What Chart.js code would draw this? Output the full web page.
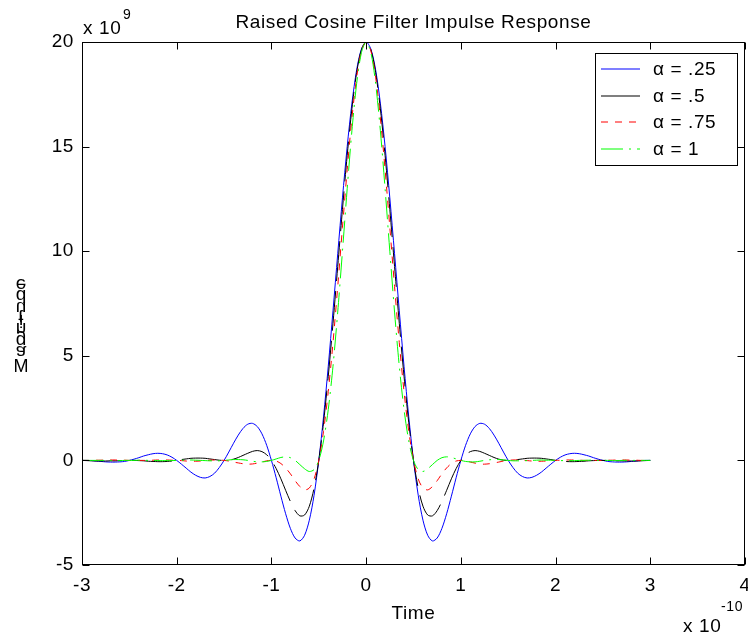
<!DOCTYPE html>
<html><head><meta charset="utf-8">
<script src="https://cdn.jsdelivr.net/npm/chart.js@4"></script>
<style>html,body{margin:0;padding:0;background:#fff}#wrap{width:748px;height:638px}</style>
</head><body><div id="wrap"><canvas id="c" width="748" height="638"></canvas></div>
<script>
// Time axis samples (x 10^-10)
const times=[-3,-2.95,-2.9,-2.85,-2.8,-2.75,-2.7,-2.65,-2.6,-2.55,-2.5,-2.45,-2.4,-2.35,-2.3,-2.25,-2.2,-2.15,-2.1,-2.05,
-2,-1.95,-1.9,-1.85,-1.8,-1.75,-1.7,-1.65,-1.6,-1.55,-1.5,-1.45,-1.4,-1.35,-1.3,-1.25,-1.2,-1.15,-1.1,-1.05,
-1,-0.95,-0.9,-0.85,-0.8,-0.75,-0.7,-0.65,-0.6,-0.55,-0.5,-0.45,-0.4,-0.35,-0.3,-0.25,-0.2,-0.15,-0.1,-0.05,
0,0.05,0.1,0.15,0.2,0.25,0.3,0.35,0.4,0.45,0.5,0.55,0.6,0.65,0.7,0.75,0.8,0.85,0.9,0.95,
1,1.05,1.1,1.15,1.2,1.25,1.3,1.35,1.4,1.45,1.5,1.55,1.6,1.65,1.7,1.75,1.8,1.85,1.9,1.95,
2,2.05,2.1,2.15,2.2,2.25,2.3,2.35,2.4,2.45,2.5,2.55,2.6,2.65,2.7,2.75,2.8,2.85,2.9,2.95,3];
// Magnitude values (x 10^9)
const alpha025=[0,0,-0.01,-0.03,-0.05,-0.07,-0.08,-0.08,-0.07,-0.05,
0,0.06,0.13,0.21,0.27,0.32,0.34,0.32,0.26,0.15,
0,-0.18,-0.37,-0.56,-0.71,-0.81,-0.84,-0.77,-0.61,-0.34,
0,0.40,0.82,1.21,1.53,1.73,1.77,1.62,1.27,0.72,
0,-0.83,-1.71,-2.55,-3.25,-3.71,-3.85,-3.58,-2.86,-1.67,
0,2.08,4.50,7.15,9.88,12.55,15.00,17.08,18.67,19.66,
20,
19.66,18.67,17.08,15.00,12.55,9.88,7.15,4.50,2.08,0,
-1.67,-2.86,-3.58,-3.85,-3.71,-3.25,-2.55,-1.71,-0.83,0,
0.72,1.27,1.62,1.77,1.73,1.53,1.21,0.82,0.40,0,
-0.34,-0.61,-0.77,-0.84,-0.81,-0.71,-0.56,-0.37,-0.18,0,
0.15,0.26,0.32,0.34,0.32,0.27,0.21,0.13,0.06,0,
-0.05,-0.07,-0.08,-0.08,-0.07,-0.05,-0.03,-0.01,0,0];
const alpha050=[0,-0.01,-0.02,-0.03,-0.03,-0.03,-0.02,-0.02,-0.01,0,
0,0,-0.01,-0.02,-0.04,-0.05,-0.06,-0.06,-0.05,-0.03,
0,0.04,0.07,0.10,0.11,0.11,0.10,0.07,0.04,0.01,
0,0.01,0.06,0.14,0.24,0.34,0.43,0.47,0.42,0.27,
0,-0.39,-0.88,-1.43,-1.96,-2.40,-2.65,-2.61,-2.19,-1.33,
0,1.80,4.02,6.55,9.27,12.00,14.58,16.81,18.54,19.63,
20,
19.63,18.54,16.81,14.58,12.00,9.27,6.55,4.02,1.80,0,
-1.33,-2.19,-2.61,-2.65,-2.40,-1.96,-1.43,-0.88,-0.39,0,
0.27,0.42,0.47,0.43,0.34,0.24,0.14,0.06,0.01,0,
0.01,0.04,0.07,0.10,0.11,0.11,0.10,0.07,0.04,0,
-0.03,-0.05,-0.06,-0.06,-0.05,-0.04,-0.02,-0.01,0,0,
0,-0.01,-0.02,-0.02,-0.03,-0.03,-0.03,-0.02,-0.01,0];
const alpha075=[0,0,0,0.01,0.01,0.02,0.02,0.02,0.01,0.01,
0,0,0,0,0,0.01,0.02,0.02,0.02,0.01,
0,-0.01,-0.03,-0.04,-0.04,-0.03,-0.01,0.01,0.02,0.02,
0,-0.03,-0.08,-0.12,-0.16,-0.18,-0.17,-0.13,-0.08,-0.02,
0,-0.03,-0.15,-0.36,-0.64,-0.97,-1.25,-1.41,-1.32,-0.89,
0,1.39,3.29,5.63,8.31,11.14,13.90,16.37,18.32,19.57,
20,
19.57,18.32,16.37,13.90,11.14,8.31,5.63,3.29,1.39,0,
-0.89,-1.32,-1.41,-1.25,-0.97,-0.64,-0.36,-0.15,-0.03,0,
-0.02,-0.08,-0.13,-0.17,-0.18,-0.16,-0.12,-0.08,-0.03,0,
0.02,0.02,0.01,-0.01,-0.03,-0.04,-0.04,-0.03,-0.01,0,
0.01,0.02,0.02,0.02,0.01,0,0,0,0,0,
0.01,0.01,0.02,0.02,0.02,0.01,0.01,0,0,0];
const alpha100=[0,0,0,0,0,0,0,-0.01,-0.01,0,
0,0,0.01,0.01,0,0,-0.01,-0.01,-0.01,-0.01,
0,0.01,0.01,0.02,0.01,0,-0.01,-0.02,-0.02,-0.02,
0,0.02,0.04,0.04,0.03,0,-0.04,-0.07,-0.07,-0.05,
0,0.07,0.14,0.17,0.13,0,-0.20,-0.40,-0.53,-0.44,
0,0.93,2.43,4.50,7.09,10.00,12.99,15.77,18.02,19.49,
20,
19.49,18.02,15.77,12.99,10.00,7.09,4.50,2.43,0.93,0,
-0.44,-0.53,-0.40,-0.20,0,0.13,0.17,0.14,0.07,0,
-0.05,-0.07,-0.07,-0.04,0,0.03,0.04,0.04,0.02,0,
-0.02,-0.02,-0.02,-0.01,0,0.01,0.02,0.01,0.01,0,
-0.01,-0.01,-0.01,-0.01,0,0,0.01,0.01,0,0,
0,-0.01,-0.01,0,0,0,0,0,0,0];
const seriesLabels=['α = .25','α = .5','α = .75','α = 1'];
const xTicks=[-3,-2,-1,0,1,2,3,4];
const yTicks=[-5,0,5,10,15,20];
const titleText='Raised Cosine Filter Impulse Response';
const xLabel='Time';
const yLabel='Magnitude';
const xExponent='-10';
const yExponent='9';

const FONT='"Liberation Sans", Arial, Helvetica, sans-serif';
const FS=19;
const pts=arr=>times.map((t,i)=>({x:t,y:arr[i]}));

const styles=[
 {c:'#0000ff',d:[]},
 {c:'#000000',d:[40,10]},
 {c:'#ff0000',d:[7,7]},
 {c:'#00ff00',d:[22,6,2,6]}
];
const seriesData=[alpha025,alpha050,alpha075,alpha100];
const datasets=seriesData.map((arr,i)=>({
  label:seriesLabels[i],data:pts(arr),showLine:true,borderColor:styles[i].c,backgroundColor:styles[i].c,
  borderWidth:1,borderDash:styles[i].d,pointRadius:0,tension:0.3,fill:false,order:3-i
}));

const decor={
  id:'decor',
  beforeDraw(chart){
    const ctx=chart.ctx;ctx.save();ctx.fillStyle='#fff';ctx.fillRect(0,0,chart.width,chart.height);ctx.restore();
    ctx.letterSpacing='0.6px';
  },
  afterDatasetsDraw(chart){
    const ctx=chart.ctx,a=chart.chartArea,xs=chart.scales.x,ys=chart.scales.y;
    const L=Math.round(a.left)+0.5,R=Math.round(a.right)-0.5,T=Math.round(a.top)+0.5,B=Math.round(a.bottom)-0.5;
    ctx.save();ctx.setLineDash([]);ctx.strokeStyle='#000';ctx.lineWidth=1;
    ctx.strokeRect(L,T,R-L,B-T);
    const tl=7;ctx.beginPath();
    xTicks.forEach(v=>{const p=Math.round(xs.getPixelForValue(v))+0.5;ctx.moveTo(p,B);ctx.lineTo(p,B-tl);ctx.moveTo(p,T);ctx.lineTo(p,T+tl);});
    yTicks.forEach(v=>{const p=Math.round(ys.getPixelForValue(v))+0.5;ctx.moveTo(L,p);ctx.lineTo(L+tl,p);ctx.moveTo(R,p);ctx.lineTo(R-tl,p);});
    ctx.stroke();
    // legend
    const lx=595,ly=53,lw=142,lh=112;
    ctx.fillStyle='#fff';ctx.fillRect(lx,ly,lw,lh);
    ctx.strokeStyle='#000';ctx.strokeRect(lx+0.5,ly+0.5,lw,lh);
    ctx.font=FS+'px '+FONT;ctx.textBaseline='middle';ctx.textAlign='left';ctx.fillStyle='#000';
    chart.data.datasets.forEach((ds,i)=>{
      const y=Math.round(69+i*26.7);
      ctx.save();ctx.strokeStyle=styles[i].c;ctx.lineWidth=1.2;ctx.setLineDash(styles[i].d);
      ctx.beginPath();ctx.moveTo(601,y);ctx.lineTo(640,y);ctx.stroke();ctx.restore();
      ctx.fillText(ds.label,653,y+0.5);
    });
    ctx.restore();
  },
  afterDraw(chart){
    const ctx=chart.ctx,a=chart.chartArea;
    ctx.save();ctx.fillStyle='#000';ctx.letterSpacing='0.6px';
    const cx=(a.left+a.right)/2;
    ctx.font=FS+'px '+FONT;ctx.textAlign='center';ctx.textBaseline='alphabetic';
    ctx.fillText(titleText,cx,28);
    ctx.fillText(xLabel,cx,619);
    ctx.textAlign='left';
    ctx.fillText('x 10',83,34);
    ctx.fillText('x 10',683,632);
    ctx.font='14px '+FONT;
    ctx.fillText(yExponent,123,19);
    ctx.fillText(xExponent,721,611);
    // y label: MATLAB-style stacked glyphs
    ctx.letterSpacing='0px';
    ctx.font='18px '+FONT;ctx.textAlign='center';
    ctx.fillText(yLabel[0],21,372);
    ctx.font='19px '+FONT;ctx.textBaseline='middle';
    let pos=357;
    for(const ch of yLabel.slice(1)){
      const w=ctx.measureText(ch).width*1.08;
      const yc=pos-w/2;
      ctx.save();ctx.translate(21,yc);ctx.scale(1,-1);ctx.fillText(ch,0,0);ctx.restore();
      pos-=w;
    }
    ctx.restore();
  }
};

new Chart(document.getElementById('c'),{
  type:'scatter',
  data:{datasets},
  options:{
    responsive:false,animation:false,devicePixelRatio:1,
    layout:{padding:{top:42,right:3,left:0,bottom:0}},
    plugins:{legend:{display:false},title:{display:false},tooltip:{enabled:false}},
    scales:{
      x:{type:'linear',min:-3,max:4,
        ticks:{stepSize:1,padding:9,color:'#000',font:{family:FONT,size:FS}},
        grid:{display:false,drawTicks:false},border:{display:false},
        afterFit(s){s.height=73;s.paddingLeft=0;s.paddingRight=0;}},
      y:{type:'linear',min:-5,max:20,
        ticks:{stepSize:5,padding:8,color:'#000',font:{family:FONT,size:FS}},
        grid:{display:false,drawTicks:false},border:{display:false},
        afterFit(s){s.width=82;s.paddingTop=0;s.paddingBottom=0;}}
    }
  },
  plugins:[decor]
});
</script></body></html>
